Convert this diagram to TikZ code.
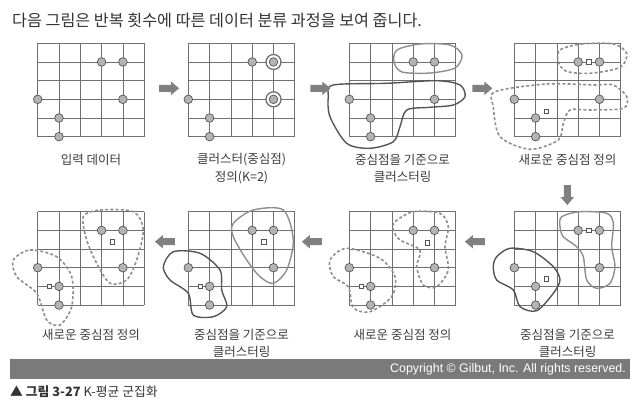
\documentclass[tikz,border=0pt]{standalone}
\usepackage{fontspec}
\setmainfont{Noto Sans CJK KR}
\newfontfamily\latinfont{Liberation Sans}
\usepackage{tikz}
\usetikzlibrary{shapes.arrows}

\definecolor{txtgray}{HTML}{333333}
\definecolor{lblgray}{HTML}{3C3C3C}
\definecolor{linegray}{HTML}{707070}
\definecolor{ptfill}{HTML}{B4B4B4}
\definecolor{ptdraw}{HTML}{555555}
\definecolor{lightclu}{HTML}{8E8E8E}
\definecolor{darkclu}{HTML}{555555}
\definecolor{barfill}{HTML}{7A7A7A}
\definecolor{arrfill}{HTML}{808080}

\def\kcw{21.3}
\def\krh{18.67}
\newcommand\kgrid{%
  \foreach \cx in {0,...,5} \draw[gridline] (\cx*\kcw,0) -- (\cx*\kcw,5*\krh);
  \foreach \ry in {0,...,5} \draw[gridline] (0,\ry*\krh) -- (5*\kcw,\ry*\krh);
}
\newcommand\kpts[1]{%
  \foreach \cx/\ry [count=\i] in {3/1,4/1,0/3,4/3,1/4,1/5}
    \node[datapt] (#1-\i) at (\cx*\kcw,\ry*\krh) {};
}

\tikzset{
  gridline/.style={draw=linegray, line width=0.7pt},
  datapt/.style={circle, draw=ptdraw, fill=ptfill, line width=0.7pt, minimum size=8.6pt, inner sep=0pt},
  ring/.style={circle, draw=ptdraw!85, fill=white, line width=1.3pt, minimum size=15pt, inner sep=0pt},
  cmark/.style={rectangle, draw=ptdraw, fill=white, line width=0.7pt, minimum width=4.2pt, minimum height=4.8pt, inner sep=0pt},
  solidlight/.style={draw=lightclu, line width=1.4pt},
  soliddark/.style={draw=darkclu, line width=1.4pt},
  dashclu/.style={draw=lightclu, line width=1.6pt, dash pattern=on 3pt off 2.2pt},
  blkarrow/.style={single arrow, fill=arrfill, draw=none, minimum height=20pt, inner sep=3.3pt,
    single arrow head extend=3.2pt, single arrow tip angle=80},
  lbl/.style={font=\fontsize{12.5}{17.5}\selectfont, text=lblgray, align=center}
}

\begin{document}
\begin{tikzpicture}[x=1pt,y=-1pt]
\useasboundingbox (0,0) rectangle (639,407);

\node[anchor=west, font=\fontsize{16.2}{18}\selectfont, text=txtgray, inner sep=0pt] (title) at (12,20)
  {다음 그림은 반복 횟수에 따른 데이터 분류 과정을 보여 줍니다.};

% top row
\begin{scope}[shift={(37.7,43.3)}]
  \kgrid
  \kpts{a}
\end{scope}

\begin{scope}[shift={(188.3,43.3)}]
  \kgrid
  \node[ring] (b-r1) at (4*\kcw,1*\krh) {};
  \node[ring] (b-r2) at (4*\kcw,3*\krh) {};
  \kpts{b}
\end{scope}

\begin{scope}[shift={(349.3,43.3)}]
  \kgrid
  \draw[solidlight] plot[smooth cycle] coordinates {(47.7,6.7) (70.7,0.7) (100.7,1.7) (112.7,11.7) (105.7,24.7) (80.7,29.7) (52.7,28.7) (44.7,18.7)};
  \draw[soliddark] plot[smooth cycle] coordinates {(-16,41.7) (37.4,40) (87.4,37.4) (110.7,41.7) (115.7,53.4) (104,61.7) (80.7,64) (57.4,66.7) (50.7,83.4) (44,98.4) (20.7,105) (-2.6,100) (-19.3,73.4) (-21,53.4)};
  \kpts{c}
\end{scope}

\begin{scope}[shift={(514.3,43.3)}]
  \kgrid
  \draw[dashclu] plot[smooth cycle] coordinates {(45.7,6.7) (67,0.7) (99,0.7) (112.4,10) (106,24) (75.7,30) (52,28) (44,18.4)};
  \draw[dashclu] plot[smooth cycle] coordinates {(-19.3,48.4) (32.4,40.7) (80,41.7) (99,41.7) (112.4,53.4) (109,65) (75.7,66.7) (55.7,66.7) (49,80) (44,96.7) (15.7,106) (-14.3,93.4) (-21,63.4)};
  \node[cmark] (d-m1) at (3.5*\kcw,1*\krh) {};
  \node[cmark] (d-m2) at (1.5*\kcw,3.65*\krh) {};
  \kpts{d}
\end{scope}

% bottom row
\begin{scope}[shift={(514.3,211.7)}]
  \kgrid
  \draw[solidlight] plot[smooth cycle] coordinates {(47.4,5) (65.7,0) (92.4,1.6) (99,11.6) (97.4,35) (100.7,55) (95.7,71.6) (82.4,76.6) (72.4,68.3) (69,45) (62.4,35) (49,25) (45.7,15)};
  \draw[soliddark] plot[smooth cycle] coordinates {(-17.6,45) (-4.3,36.6) (19,40) (39,55) (45.7,68.3) (39,81.6) (22.4,99) (5.7,95) (-1,78.3) (-17.6,68.3) (-21,55)};
  \node[cmark] (e-m1) at (3.5*\kcw,1*\krh) {};
  \node[cmark] (e-m2) at (1.5*\kcw,3.6*\krh) {};
  \kpts{e}
\end{scope}

\begin{scope}[shift={(349.3,211.7)}]
  \kgrid
  \draw[dashclu] plot[smooth cycle] coordinates {(45.7,10) (64,0) (90.7,1.6) (99,15) (95.7,35) (99,58.3) (87.4,75) (74,73.3) (67.4,55) (70.7,38.3) (50.7,28.3) (44,18.3)};
  \draw[dashclu] plot[smooth cycle] coordinates {(-19.3,48.3) (-2.6,36.6) (30.7,46.6) (45.7,65) (42.4,85) (20.7,100) (4,96) (-1,75) (-16,65)};
  \node[cmark] (f-m1) at (3.67*\kcw,1.67*\krh) {};
  \node[cmark] (f-m2) at (0.55*\kcw,4*\krh) {};
  \kpts{f}
\end{scope}

\begin{scope}[shift={(188.3,211.7)}]
  \kgrid
  \draw[solidlight] plot[smooth cycle] coordinates {(45,11.6) (65,-1.7) (95,-1.7) (105,28.3) (98.4,58.3) (85,71.6) (71.7,65) (58.4,48.3) (45,25)};
  \draw[soliddark] plot[smooth cycle] coordinates {(-25,55) (-15,40) (11.7,41.6) (31.7,58.3) (33.4,78.3) (38.4,95) (25,105) (5,103.3) (0,81.6) (-18.3,68.3)};
  \node[cmark] (g-m1) at (3.55*\kcw,1.6*\krh) {};
  \node[cmark] (g-m2) at (0.55*\kcw,4*\krh) {};
  \kpts{g}
\end{scope}

\begin{scope}[shift={(37.7,211.7)}]
  \kgrid
  \draw[dashclu] plot[smooth cycle] coordinates {(45.6,5) (62.3,-1.7) (95.6,0) (105.6,18.3) (99,48.3) (89,68.3) (72.3,71.6) (59,51.6) (49,28.3)};
  \draw[dashclu] plot[smooth cycle] coordinates {(-24.4,48.3) (-7.7,38.3) (19,45) (34,65) (34,95) (22.3,113.3) (9,108.3) (-1,81.6) (-21,65)};
  \node[cmark] (h-m1) at (3.5*\kcw,1.6*\krh) {};
  \node[cmark] (h-m2) at (0.55*\kcw,4*\krh) {};
  \kpts{h}
\end{scope}

% labels
\node[lbl] (a-lbl) at (91,160) {입력 데이터};
\node[lbl] (b-lbl) at (241.5,168.5) {클러스터(중심점)\\정의(K=2)};
\node[lbl] (c-lbl) at (402.5,168.5) {중심점을 기준으로\\클러스터링};
\node[lbl] (d-lbl) at (567.5,160) {새로운 중심점 정의};
\node[lbl] (e-lbl) at (567.5,343.5) {중심점을 기준으로\\클러스터링};
\node[lbl] (f-lbl) at (402.5,335) {새로운 중심점 정의};
\node[lbl] (g-lbl) at (241.5,343.5) {중심점을 기준으로\\클러스터링};
\node[lbl] (h-lbl) at (91,335) {새로운 중심점 정의};

% arrows
\node[blkarrow] (ar1) at (167,88.3) {};
\node[blkarrow] (ar2) at (318.3,88.3) {};
\node[blkarrow] (ar3) at (480.3,88.3) {};
\node[blkarrow, shape border rotate=270] (ar4) at (567.3,193) {};
\node[blkarrow, shape border rotate=180] (ar5) at (477,241.7) {};
\node[blkarrow, shape border rotate=180] (ar6) at (314,241.7) {};
\node[blkarrow, shape border rotate=180] (ar7) at (167,241.7) {};

% footer
\fill[barfill] (10,359) rectangle (630,379);
\node[anchor=east, font=\latinfont\fontsize{12.4}{14}\selectfont, text=white, inner sep=0pt] (copy) at (626,369.5)
  {Copyright © Gilbut, Inc. All rights reserved.};
\node[anchor=west, font=\fontsize{12.8}{14}\selectfont, text=txtgray, inner sep=0pt] (cap) at (10,392)
  {\textbf{▲ 그림 3-27} K-평균 군집화};
\end{tikzpicture}
\end{document}
